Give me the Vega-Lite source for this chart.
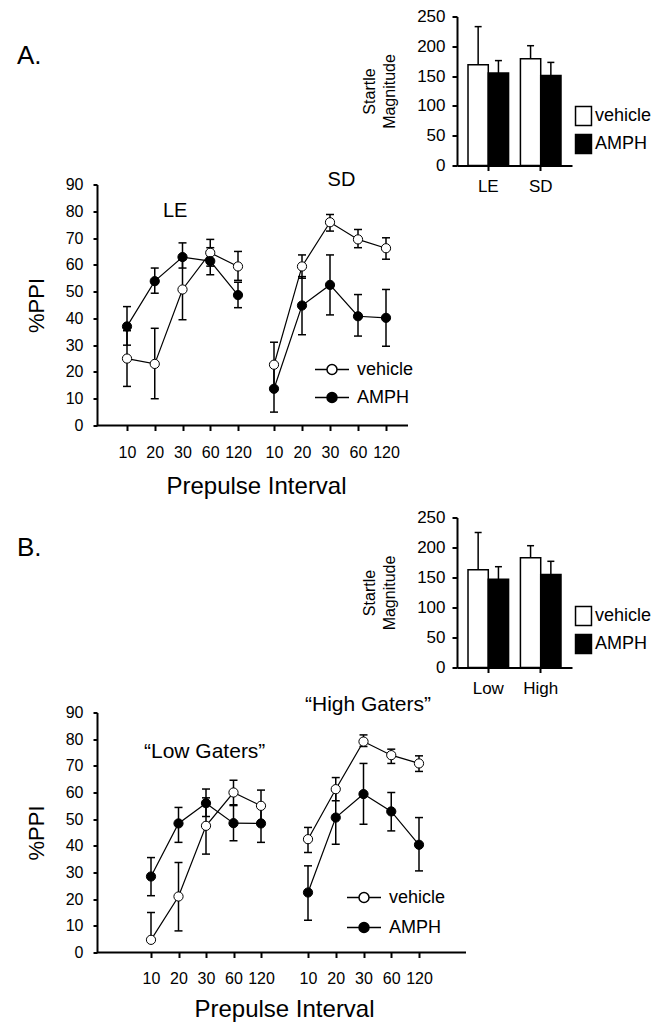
{
  "$schema": "https://vega.github.io/schema/vega-lite/v6.json",
  "background": "white",
  "padding": {"left": 17, "top": 7.5, "right": 5, "bottom": 5},
  "datasets": {
    "ppi": [
      {"panel": "A", "group": "LE", "interval": 10, "treatment": "vehicle", "mean": 25, "lo": 14.6, "hi": 35.4},
      {"panel": "A", "group": "LE", "interval": 20, "treatment": "vehicle", "mean": 23, "lo": 10, "hi": 36.3},
      {"panel": "A", "group": "LE", "interval": 30, "treatment": "vehicle", "mean": 50.8, "lo": 39.5, "hi": 62},
      {"panel": "A", "group": "LE", "interval": 60, "treatment": "vehicle", "mean": 64.5, "lo": 59.5, "hi": 69.5},
      {"panel": "A", "group": "LE", "interval": 120, "treatment": "vehicle", "mean": 59.4, "lo": 54.2, "hi": 65},
      {"panel": "A", "group": "LE", "interval": 10, "treatment": "AMPH", "mean": 37, "lo": 30, "hi": 44.4},
      {"panel": "A", "group": "LE", "interval": 20, "treatment": "AMPH", "mean": 53.9, "lo": 49.4, "hi": 58.8},
      {"panel": "A", "group": "LE", "interval": 30, "treatment": "AMPH", "mean": 62.9, "lo": 58.8, "hi": 68.2},
      {"panel": "A", "group": "LE", "interval": 60, "treatment": "AMPH", "mean": 61.4, "lo": 56.3, "hi": 66.4},
      {"panel": "A", "group": "LE", "interval": 120, "treatment": "AMPH", "mean": 48.7, "lo": 44, "hi": 53.5},
      {"panel": "A", "group": "SD", "interval": 10, "treatment": "vehicle", "mean": 22.7, "lo": 14.2, "hi": 31.1},
      {"panel": "A", "group": "SD", "interval": 20, "treatment": "vehicle", "mean": 59.4, "lo": 55, "hi": 63.7},
      {"panel": "A", "group": "SD", "interval": 30, "treatment": "vehicle", "mean": 75.9, "lo": 72.6, "hi": 78.8},
      {"panel": "A", "group": "SD", "interval": 60, "treatment": "vehicle", "mean": 69.5, "lo": 66.4, "hi": 73.2},
      {"panel": "A", "group": "SD", "interval": 120, "treatment": "vehicle", "mean": 66.2, "lo": 62.1, "hi": 70.1},
      {"panel": "A", "group": "SD", "interval": 10, "treatment": "AMPH", "mean": 13.7, "lo": 5, "hi": 22.4},
      {"panel": "A", "group": "SD", "interval": 20, "treatment": "AMPH", "mean": 44.8, "lo": 33.9, "hi": 55.6},
      {"panel": "A", "group": "SD", "interval": 30, "treatment": "AMPH", "mean": 52.5, "lo": 41.3, "hi": 63.7},
      {"panel": "A", "group": "SD", "interval": 60, "treatment": "AMPH", "mean": 40.8, "lo": 33.4, "hi": 48.9},
      {"panel": "A", "group": "SD", "interval": 120, "treatment": "AMPH", "mean": 40.2, "lo": 29.6, "hi": 50.8},
      {"panel": "B", "group": "Low", "interval": 10, "treatment": "vehicle", "mean": 4.75, "lo": 4.75, "hi": 15},
      {"panel": "B", "group": "Low", "interval": 20, "treatment": "vehicle", "mean": 21, "lo": 8.1, "hi": 33.75},
      {"panel": "B", "group": "Low", "interval": 30, "treatment": "vehicle", "mean": 47.5, "lo": 36.9, "hi": 58},
      {"panel": "B", "group": "Low", "interval": 60, "treatment": "vehicle", "mean": 60, "lo": 55.4, "hi": 64.6},
      {"panel": "B", "group": "Low", "interval": 120, "treatment": "vehicle", "mean": 55, "lo": 49.1, "hi": 60.9},
      {"panel": "B", "group": "Low", "interval": 10, "treatment": "AMPH", "mean": 28.5, "lo": 21.3, "hi": 35.6},
      {"panel": "B", "group": "Low", "interval": 20, "treatment": "AMPH", "mean": 48.4, "lo": 41.3, "hi": 54.4},
      {"panel": "B", "group": "Low", "interval": 30, "treatment": "AMPH", "mean": 56, "lo": 51, "hi": 61.3},
      {"panel": "B", "group": "Low", "interval": 60, "treatment": "AMPH", "mean": 48.5, "lo": 41.9, "hi": 55.1},
      {"panel": "B", "group": "Low", "interval": 120, "treatment": "AMPH", "mean": 48.4, "lo": 41.3, "hi": 55.5},
      {"panel": "B", "group": "High", "interval": 10, "treatment": "vehicle", "mean": 42.5, "lo": 37.5, "hi": 46.9},
      {"panel": "B", "group": "High", "interval": 20, "treatment": "vehicle", "mean": 61.25, "lo": 56.9, "hi": 65.6},
      {"panel": "B", "group": "High", "interval": 30, "treatment": "vehicle", "mean": 79.1, "lo": 77.25, "hi": 81.6},
      {"panel": "B", "group": "High", "interval": 60, "treatment": "vehicle", "mean": 74, "lo": 70.9, "hi": 76.25},
      {"panel": "B", "group": "High", "interval": 120, "treatment": "vehicle", "mean": 70.9, "lo": 67.9, "hi": 73.75},
      {"panel": "B", "group": "High", "interval": 10, "treatment": "AMPH", "mean": 22.5, "lo": 12.1, "hi": 32.5},
      {"panel": "B", "group": "High", "interval": 20, "treatment": "AMPH", "mean": 50.6, "lo": 40.6, "hi": 60.6},
      {"panel": "B", "group": "High", "interval": 30, "treatment": "AMPH", "mean": 59.4, "lo": 48.1, "hi": 70.9},
      {"panel": "B", "group": "High", "interval": 60, "treatment": "AMPH", "mean": 52.9, "lo": 45.6, "hi": 60},
      {"panel": "B", "group": "High", "interval": 120, "treatment": "AMPH", "mean": 40.4, "lo": 30.6, "hi": 50.6}
    ],
    "startle": [
      {"panel": "A", "group": "LE", "treatment": "vehicle", "mean": 169, "hi": 233},
      {"panel": "A", "group": "LE", "treatment": "AMPH", "mean": 155, "hi": 176},
      {"panel": "A", "group": "SD", "treatment": "vehicle", "mean": 179, "hi": 201},
      {"panel": "A", "group": "SD", "treatment": "AMPH", "mean": 151, "hi": 173},
      {"panel": "B", "group": "Low", "treatment": "vehicle", "mean": 163, "hi": 225},
      {"panel": "B", "group": "Low", "treatment": "AMPH", "mean": 147, "hi": 168},
      {"panel": "B", "group": "High", "treatment": "vehicle", "mean": 183, "hi": 203},
      {"panel": "B", "group": "High", "treatment": "AMPH", "mean": 155, "hi": 177}
    ]
  },
  "bounds": "flush",
  "spacing": 0,
  "resolve": {"scale": {"fill": "independent"}, "legend": {"fill": "independent"}},
  "vconcat": [
    {
      "width": 475, "height": 149,
      "data": {"name": "startle"},
      "transform": [{"filter": "datum.panel === 'A'"}],
      "title": {"text": "A.", "anchor": "start", "frame": "group", "baseline": "alphabetic", "offset": 0, "dx": -80, "dy": 82.5, "fontSize": 26},
      "encoding": {
        "x": {"field": "group", "type": "nominal", "sort": ["LE", "SD"], "scale": {"range": [360, 475], "paddingInner": 0.226, "paddingOuter": 0.21}, "axis": {"title": null, "labelAngle": 0, "labelFontSize": 17, "tickSize": 5, "labelPadding": 8}},
        "xOffset": {"field": "treatment", "type": "nominal", "sort": ["vehicle", "AMPH"], "scale": {"paddingInner": 0, "paddingOuter": 0}}
      },
      "layer": [
        {"mark": {"type": "bar", "stroke": "black", "strokeWidth": 1.5},
         "encoding": {
           "y": {"field": "mean", "type": "quantitative", "scale": {"domain": [0, 250], "nice": false}, "axis": {"offset": -360, "values": [0, 50, 100, 150, 200, 250], "labelOverlap": false, "labelFontSize": 17, "tickSize": 5, "labelPadding": 7, "title": ["Startle", "Magnitude"], "titleFontSize": 16, "titleX": -83, "titleBaseline": "alphabetic", "titleLineHeight": 20}},
           "fill": {"field": "treatment", "type": "nominal", "scale": {"domain": ["vehicle", "AMPH"], "range": ["white", "black"]},
             "legend": {"orient": "none", "legendX": 476, "legendY": 89, "title": null, "symbolType": "M-0.84,-1H0.84V1H-0.84Z", "symbolSize": 361, "symbolStrokeColor": "black", "symbolStrokeWidth": 1.5, "labelFontSize": 18, "labelOffset": 1, "rowPadding": 3}}
         }},
        {"mark": {"type": "rule", "color": "black", "strokeWidth": 1.5},
         "encoding": {"y": {"field": "mean", "type": "quantitative", "axis": {"offset": -360, "values": [0, 50, 100, 150, 200, 250], "labelOverlap": false, "labelFontSize": 17, "tickSize": 5, "labelPadding": 7, "title": ["Startle", "Magnitude"], "titleFontSize": 16, "titleX": -83, "titleBaseline": "alphabetic", "titleLineHeight": 20}}, "y2": {"field": "hi"}}},
        {"mark": {"type": "tick", "color": "black", "size": 7, "thickness": 1.5, "opacity": 1},
         "encoding": {"y": {"field": "hi", "type": "quantitative", "axis": {"offset": -360, "values": [0, 50, 100, 150, 200, 250], "labelOverlap": false, "labelFontSize": 17, "tickSize": 5, "labelPadding": 7, "title": ["Startle", "Magnitude"], "titleFontSize": 16, "titleX": -83, "titleBaseline": "alphabetic", "titleLineHeight": 20}}}}
      ]
    },
    {"width": 1, "height": 19, "data": {"values": []}, "mark": "point"},
    {
      "width": 311, "height": 241,
      "title": {"text": "LE", "anchor": "start", "frame": "group", "baseline": "alphabetic", "offset": 0, "dx": 66, "dy": 67.5, "fontSize": 20},
      "resolve": {"scale": {"x": "independent"}, "axis": {"x": "independent"}},
      "layer": [
        {"data": {"values": [{}]},
         "mark": {"type": "rule", "color": "black", "strokeWidth": 2},
         "encoding": {"y": {"datum": 0, "type": "quantitative", "scale": {"domain": [0, 90], "nice": false}, "axis": {"values": [0, 10, 20, 30, 40, 50, 60, 70, 80, 90], "labelOverlap": false, "labelFontSize": 16, "tickSize": 4, "labelPadding": 10, "title": "%PPI", "titleFontSize": 22, "titleX": -54, "titleBaseline": "alphabetic"}}}},
        {
          "data": {"name": "ppi"},
          "transform": [{"filter": "datum.group === 'LE'"}],
          "encoding": {"x": {"field": "interval", "type": "ordinal", "scale": {"type": "point", "domain": [10, 20, 30, 60, 120], "range": [30, 141], "padding": 0},
            "axis": {"orient": "bottom", "domain": false, "labelAngle": 0, "labelFontSize": 16, "labelOverlap": false, "tickSize": 5, "labelPadding": 14, "title": "Prepulse Interval", "titleFontSize": 24, "titleX": 159, "titleY": 68, "titleBaseline": "alphabetic", "titleAlign": "center"}}},
          "layer": [
            {"mark": {"type": "line", "color": "black", "strokeWidth": 1.2},
             "encoding": {"y": {"field": "mean", "type": "quantitative", "axis": {"values": [0, 10, 20, 30, 40, 50, 60, 70, 80, 90], "labelOverlap": false, "labelFontSize": 16, "tickSize": 4, "labelPadding": 10, "title": "%PPI", "titleFontSize": 22, "titleX": -54, "titleBaseline": "alphabetic"}}, "detail": {"field": "treatment"}}},
            {"mark": {"type": "rule", "color": "black", "strokeWidth": 1.5},
             "encoding": {"y": {"field": "lo", "type": "quantitative", "axis": {"values": [0, 10, 20, 30, 40, 50, 60, 70, 80, 90], "labelOverlap": false, "labelFontSize": 16, "tickSize": 4, "labelPadding": 10, "title": "%PPI", "titleFontSize": 22, "titleX": -54, "titleBaseline": "alphabetic"}}, "y2": {"field": "hi"}}},
            {"mark": {"type": "tick", "color": "black", "size": 8, "thickness": 1.5, "opacity": 1},
             "encoding": {"y": {"field": "lo", "type": "quantitative", "axis": {"values": [0, 10, 20, 30, 40, 50, 60, 70, 80, 90], "labelOverlap": false, "labelFontSize": 16, "tickSize": 4, "labelPadding": 10, "title": "%PPI", "titleFontSize": 22, "titleX": -54, "titleBaseline": "alphabetic"}}}},
            {"mark": {"type": "tick", "color": "black", "size": 8, "thickness": 1.5, "opacity": 1},
             "encoding": {"y": {"field": "hi", "type": "quantitative", "axis": {"values": [0, 10, 20, 30, 40, 50, 60, 70, 80, 90], "labelOverlap": false, "labelFontSize": 16, "tickSize": 4, "labelPadding": 10, "title": "%PPI", "titleFontSize": 22, "titleX": -54, "titleBaseline": "alphabetic"}}}},
            {"mark": {"type": "point", "filled": true, "stroke": "black", "strokeWidth": 1, "size": 85, "opacity": 1},
             "encoding": {"y": {"field": "mean", "type": "quantitative", "axis": {"values": [0, 10, 20, 30, 40, 50, 60, 70, 80, 90], "labelOverlap": false, "labelFontSize": 16, "tickSize": 4, "labelPadding": 10, "title": "%PPI", "titleFontSize": 22, "titleX": -54, "titleBaseline": "alphabetic"}},
               "fill": {"field": "treatment", "type": "nominal", "scale": {"domain": ["vehicle", "AMPH"], "range": ["white", "black"]},
                 "legend": {"orient": "none", "legendX": 224, "legendY": 174, "title": null, "symbolType": "M-1.7,0H-0.5M0.5,0H1.7M0.5,0A0.5,0.5,0,1,1,-0.5,0A0.5,0.5,0,1,1,0.5,0Z", "symbolSize": 400, "symbolStrokeColor": "black", "symbolStrokeWidth": 1.5, "labelFontSize": 18, "labelOffset": 14, "rowPadding": 8}}}}
          ]
        },
        {
          "data": {"name": "ppi"},
          "transform": [{"filter": "datum.group === 'SD'"}],
          "encoding": {"x": {"field": "interval", "type": "ordinal", "scale": {"type": "point", "domain": [10, 20, 30, 60, 120], "range": [177, 289], "padding": 0},
            "axis": {"orient": "bottom", "domain": false, "labelAngle": 0, "labelFontSize": 16, "labelOverlap": false, "tickSize": 5, "labelPadding": 14, "title": "SD", "titleFontSize": 20, "titleX": 244, "titleY": -240, "titleBaseline": "alphabetic", "titleAlign": "center"}}},
          "layer": [
            {"mark": {"type": "line", "color": "black", "strokeWidth": 1.2},
             "encoding": {"y": {"field": "mean", "type": "quantitative", "axis": {"values": [0, 10, 20, 30, 40, 50, 60, 70, 80, 90], "labelOverlap": false, "labelFontSize": 16, "tickSize": 4, "labelPadding": 10, "title": "%PPI", "titleFontSize": 22, "titleX": -54, "titleBaseline": "alphabetic"}}, "detail": {"field": "treatment"}}},
            {"mark": {"type": "rule", "color": "black", "strokeWidth": 1.5},
             "encoding": {"y": {"field": "lo", "type": "quantitative", "axis": {"values": [0, 10, 20, 30, 40, 50, 60, 70, 80, 90], "labelOverlap": false, "labelFontSize": 16, "tickSize": 4, "labelPadding": 10, "title": "%PPI", "titleFontSize": 22, "titleX": -54, "titleBaseline": "alphabetic"}}, "y2": {"field": "hi"}}},
            {"mark": {"type": "tick", "color": "black", "size": 8, "thickness": 1.5, "opacity": 1},
             "encoding": {"y": {"field": "lo", "type": "quantitative", "axis": {"values": [0, 10, 20, 30, 40, 50, 60, 70, 80, 90], "labelOverlap": false, "labelFontSize": 16, "tickSize": 4, "labelPadding": 10, "title": "%PPI", "titleFontSize": 22, "titleX": -54, "titleBaseline": "alphabetic"}}}},
            {"mark": {"type": "tick", "color": "black", "size": 8, "thickness": 1.5, "opacity": 1},
             "encoding": {"y": {"field": "hi", "type": "quantitative", "axis": {"values": [0, 10, 20, 30, 40, 50, 60, 70, 80, 90], "labelOverlap": false, "labelFontSize": 16, "tickSize": 4, "labelPadding": 10, "title": "%PPI", "titleFontSize": 22, "titleX": -54, "titleBaseline": "alphabetic"}}}},
            {"mark": {"type": "point", "filled": true, "stroke": "black", "strokeWidth": 1, "size": 85, "opacity": 1},
             "encoding": {"y": {"field": "mean", "type": "quantitative", "axis": {"values": [0, 10, 20, 30, 40, 50, 60, 70, 80, 90], "labelOverlap": false, "labelFontSize": 16, "tickSize": 4, "labelPadding": 10, "title": "%PPI", "titleFontSize": 22, "titleX": -54, "titleBaseline": "alphabetic"}},
               "fill": {"field": "treatment", "type": "nominal", "scale": {"domain": ["vehicle", "AMPH"], "range": ["white", "black"]},
                 "legend": {"orient": "none", "legendX": 224, "legendY": 174, "title": null, "symbolType": "M-1.7,0H-0.5M0.5,0H1.7M0.5,0A0.5,0.5,0,1,1,-0.5,0A0.5,0.5,0,1,1,0.5,0Z", "symbolSize": 400, "symbolStrokeColor": "black", "symbolStrokeWidth": 1.5, "labelFontSize": 18, "labelOffset": 14, "rowPadding": 8}}}}
          ]
        }
      ]
    },
    {"width": 1, "height": 92, "data": {"values": []}, "mark": "point"},
    {
      "width": 475, "height": 150,
      "data": {"name": "startle"},
      "transform": [{"filter": "datum.panel === 'B'"}],
      "title": {"text": "B.", "anchor": "start", "frame": "group", "baseline": "alphabetic", "offset": 0, "dx": -80, "dy": 73.5, "fontSize": 26},
      "encoding": {
        "x": {"field": "group", "type": "nominal", "sort": ["Low", "High"], "scale": {"range": [360, 475], "paddingInner": 0.226, "paddingOuter": 0.21}, "axis": {"title": null, "labelAngle": 0, "labelFontSize": 17, "tickSize": 5, "labelPadding": 8}},
        "xOffset": {"field": "treatment", "type": "nominal", "sort": ["vehicle", "AMPH"], "scale": {"paddingInner": 0, "paddingOuter": 0}}
      },
      "layer": [
        {"mark": {"type": "bar", "stroke": "black", "strokeWidth": 1.5},
         "encoding": {
           "y": {"field": "mean", "type": "quantitative", "scale": {"domain": [0, 250], "nice": false}, "axis": {"offset": -360, "values": [0, 50, 100, 150, 200, 250], "labelOverlap": false, "labelFontSize": 17, "tickSize": 5, "labelPadding": 7, "title": ["Startle", "Magnitude"], "titleFontSize": 16, "titleX": -83, "titleBaseline": "alphabetic", "titleLineHeight": 20}},
           "fill": {"field": "treatment", "type": "nominal", "scale": {"domain": ["vehicle", "AMPH"], "range": ["white", "black"]},
             "legend": {"orient": "none", "legendX": 476, "legendY": 88, "title": null, "symbolType": "M-0.84,-1H0.84V1H-0.84Z", "symbolSize": 361, "symbolStrokeColor": "black", "symbolStrokeWidth": 1.5, "labelFontSize": 18, "labelOffset": 1, "rowPadding": 3}}
         }},
        {"mark": {"type": "rule", "color": "black", "strokeWidth": 1.5},
         "encoding": {"y": {"field": "mean", "type": "quantitative", "axis": {"offset": -360, "values": [0, 50, 100, 150, 200, 250], "labelOverlap": false, "labelFontSize": 17, "tickSize": 5, "labelPadding": 7, "title": ["Startle", "Magnitude"], "titleFontSize": 16, "titleX": -83, "titleBaseline": "alphabetic", "titleLineHeight": 20}}, "y2": {"field": "hi"}}},
        {"mark": {"type": "tick", "color": "black", "size": 7, "thickness": 1.5, "opacity": 1},
         "encoding": {"y": {"field": "hi", "type": "quantitative", "axis": {"offset": -360, "values": [0, 50, 100, 150, 200, 250], "labelOverlap": false, "labelFontSize": 17, "tickSize": 5, "labelPadding": 7, "title": ["Startle", "Magnitude"], "titleFontSize": 16, "titleX": -83, "titleBaseline": "alphabetic", "titleLineHeight": 20}}}}
      ]
    },
    {"width": 1, "height": 45, "data": {"values": []}, "mark": "point"},
    {
      "width": 369, "height": 240,
      "title": {"text": "“Low Gaters”", "anchor": "start", "frame": "group", "baseline": "alphabetic", "offset": 0, "dx": 47, "dy": 85, "fontSize": 21},
      "resolve": {"scale": {"x": "independent"}, "axis": {"x": "independent"}},
      "layer": [
        {"data": {"values": [{}]},
         "mark": {"type": "rule", "color": "black", "strokeWidth": 2},
         "encoding": {"y": {"datum": 0, "type": "quantitative", "scale": {"domain": [0, 90], "nice": false}, "axis": {"values": [0, 10, 20, 30, 40, 50, 60, 70, 80, 90], "labelOverlap": false, "labelFontSize": 16, "tickSize": 4, "labelPadding": 10, "title": "%PPI", "titleFontSize": 22, "titleX": -54, "titleBaseline": "alphabetic"}}}},
        {
          "data": {"name": "ppi"},
          "transform": [{"filter": "datum.group === 'Low'"}],
          "encoding": {"x": {"field": "interval", "type": "ordinal", "scale": {"type": "point", "domain": [10, 20, 30, 60, 120], "range": [54, 164], "padding": 0},
            "axis": {"orient": "bottom", "domain": false, "labelAngle": 0, "labelFontSize": 16, "labelOverlap": false, "tickSize": 5, "labelPadding": 13, "title": "Prepulse Interval", "titleFontSize": 24, "titleX": 187, "titleY": 64, "titleBaseline": "alphabetic", "titleAlign": "center"}}},
          "layer": [
            {"mark": {"type": "line", "color": "black", "strokeWidth": 1.2},
             "encoding": {"y": {"field": "mean", "type": "quantitative", "axis": {"values": [0, 10, 20, 30, 40, 50, 60, 70, 80, 90], "labelOverlap": false, "labelFontSize": 16, "tickSize": 4, "labelPadding": 10, "title": "%PPI", "titleFontSize": 22, "titleX": -54, "titleBaseline": "alphabetic"}}, "detail": {"field": "treatment"}}},
            {"mark": {"type": "rule", "color": "black", "strokeWidth": 1.5},
             "encoding": {"y": {"field": "lo", "type": "quantitative", "axis": {"values": [0, 10, 20, 30, 40, 50, 60, 70, 80, 90], "labelOverlap": false, "labelFontSize": 16, "tickSize": 4, "labelPadding": 10, "title": "%PPI", "titleFontSize": 22, "titleX": -54, "titleBaseline": "alphabetic"}}, "y2": {"field": "hi"}}},
            {"mark": {"type": "tick", "color": "black", "size": 8, "thickness": 1.5, "opacity": 1},
             "encoding": {"y": {"field": "lo", "type": "quantitative", "axis": {"values": [0, 10, 20, 30, 40, 50, 60, 70, 80, 90], "labelOverlap": false, "labelFontSize": 16, "tickSize": 4, "labelPadding": 10, "title": "%PPI", "titleFontSize": 22, "titleX": -54, "titleBaseline": "alphabetic"}}}},
            {"mark": {"type": "tick", "color": "black", "size": 8, "thickness": 1.5, "opacity": 1},
             "encoding": {"y": {"field": "hi", "type": "quantitative", "axis": {"values": [0, 10, 20, 30, 40, 50, 60, 70, 80, 90], "labelOverlap": false, "labelFontSize": 16, "tickSize": 4, "labelPadding": 10, "title": "%PPI", "titleFontSize": 22, "titleX": -54, "titleBaseline": "alphabetic"}}}},
            {"mark": {"type": "point", "filled": true, "stroke": "black", "strokeWidth": 1, "size": 85, "opacity": 1},
             "encoding": {"y": {"field": "mean", "type": "quantitative", "axis": {"values": [0, 10, 20, 30, 40, 50, 60, 70, 80, 90], "labelOverlap": false, "labelFontSize": 16, "tickSize": 4, "labelPadding": 10, "title": "%PPI", "titleFontSize": 22, "titleX": -54, "titleBaseline": "alphabetic"}},
               "fill": {"field": "treatment", "type": "nominal", "scale": {"domain": ["vehicle", "AMPH"], "range": ["white", "black"]},
                 "legend": {"orient": "none", "legendX": 256, "legendY": 174, "title": null, "symbolType": "M-1.7,0H-0.5M0.5,0H1.7M0.5,0A0.5,0.5,0,1,1,-0.5,0A0.5,0.5,0,1,1,0.5,0Z", "symbolSize": 400, "symbolStrokeColor": "black", "symbolStrokeWidth": 1.5, "labelFontSize": 18, "labelOffset": 14, "rowPadding": 10}}}}
          ]
        },
        {
          "data": {"name": "ppi"},
          "transform": [{"filter": "datum.group === 'High'"}],
          "encoding": {"x": {"field": "interval", "type": "ordinal", "scale": {"type": "point", "domain": [10, 20, 30, 60, 120], "range": [211, 322], "padding": 0},
            "axis": {"orient": "bottom", "domain": false, "labelAngle": 0, "labelFontSize": 16, "labelOverlap": false, "tickSize": 5, "labelPadding": 13, "title": "“High Gaters”", "titleFontSize": 21, "titleX": 270.5, "titleY": -242, "titleBaseline": "alphabetic", "titleAlign": "center"}}},
          "layer": [
            {"mark": {"type": "line", "color": "black", "strokeWidth": 1.2},
             "encoding": {"y": {"field": "mean", "type": "quantitative", "axis": {"values": [0, 10, 20, 30, 40, 50, 60, 70, 80, 90], "labelOverlap": false, "labelFontSize": 16, "tickSize": 4, "labelPadding": 10, "title": "%PPI", "titleFontSize": 22, "titleX": -54, "titleBaseline": "alphabetic"}}, "detail": {"field": "treatment"}}},
            {"mark": {"type": "rule", "color": "black", "strokeWidth": 1.5},
             "encoding": {"y": {"field": "lo", "type": "quantitative", "axis": {"values": [0, 10, 20, 30, 40, 50, 60, 70, 80, 90], "labelOverlap": false, "labelFontSize": 16, "tickSize": 4, "labelPadding": 10, "title": "%PPI", "titleFontSize": 22, "titleX": -54, "titleBaseline": "alphabetic"}}, "y2": {"field": "hi"}}},
            {"mark": {"type": "tick", "color": "black", "size": 8, "thickness": 1.5, "opacity": 1},
             "encoding": {"y": {"field": "lo", "type": "quantitative", "axis": {"values": [0, 10, 20, 30, 40, 50, 60, 70, 80, 90], "labelOverlap": false, "labelFontSize": 16, "tickSize": 4, "labelPadding": 10, "title": "%PPI", "titleFontSize": 22, "titleX": -54, "titleBaseline": "alphabetic"}}}},
            {"mark": {"type": "tick", "color": "black", "size": 8, "thickness": 1.5, "opacity": 1},
             "encoding": {"y": {"field": "hi", "type": "quantitative", "axis": {"values": [0, 10, 20, 30, 40, 50, 60, 70, 80, 90], "labelOverlap": false, "labelFontSize": 16, "tickSize": 4, "labelPadding": 10, "title": "%PPI", "titleFontSize": 22, "titleX": -54, "titleBaseline": "alphabetic"}}}},
            {"mark": {"type": "point", "filled": true, "stroke": "black", "strokeWidth": 1, "size": 85, "opacity": 1},
             "encoding": {"y": {"field": "mean", "type": "quantitative", "axis": {"values": [0, 10, 20, 30, 40, 50, 60, 70, 80, 90], "labelOverlap": false, "labelFontSize": 16, "tickSize": 4, "labelPadding": 10, "title": "%PPI", "titleFontSize": 22, "titleX": -54, "titleBaseline": "alphabetic"}},
               "fill": {"field": "treatment", "type": "nominal", "scale": {"domain": ["vehicle", "AMPH"], "range": ["white", "black"]},
                 "legend": {"orient": "none", "legendX": 256, "legendY": 174, "title": null, "symbolType": "M-1.7,0H-0.5M0.5,0H1.7M0.5,0A0.5,0.5,0,1,1,-0.5,0A0.5,0.5,0,1,1,0.5,0Z", "symbolSize": 400, "symbolStrokeColor": "black", "symbolStrokeWidth": 1.5, "labelFontSize": 18, "labelOffset": 14, "rowPadding": 10}}}}
          ]
        }
      ]
    }
  ],
  "config": {
    "font": "Liberation Sans",
    "view": {"stroke": null},
    "axis": {"grid": false, "domainColor": "black", "domainWidth": 2, "tickColor": "black", "tickWidth": 2, "labelColor": "black", "titleColor": "black", "labelFont": "Liberation Sans", "titleFont": "Liberation Sans", "titleFontWeight": "normal"},
    "title": {"color": "black", "fontWeight": "normal", "font": "Liberation Sans"},
    "legend": {"labelColor": "black", "labelFont": "Liberation Sans"}
  }
}
